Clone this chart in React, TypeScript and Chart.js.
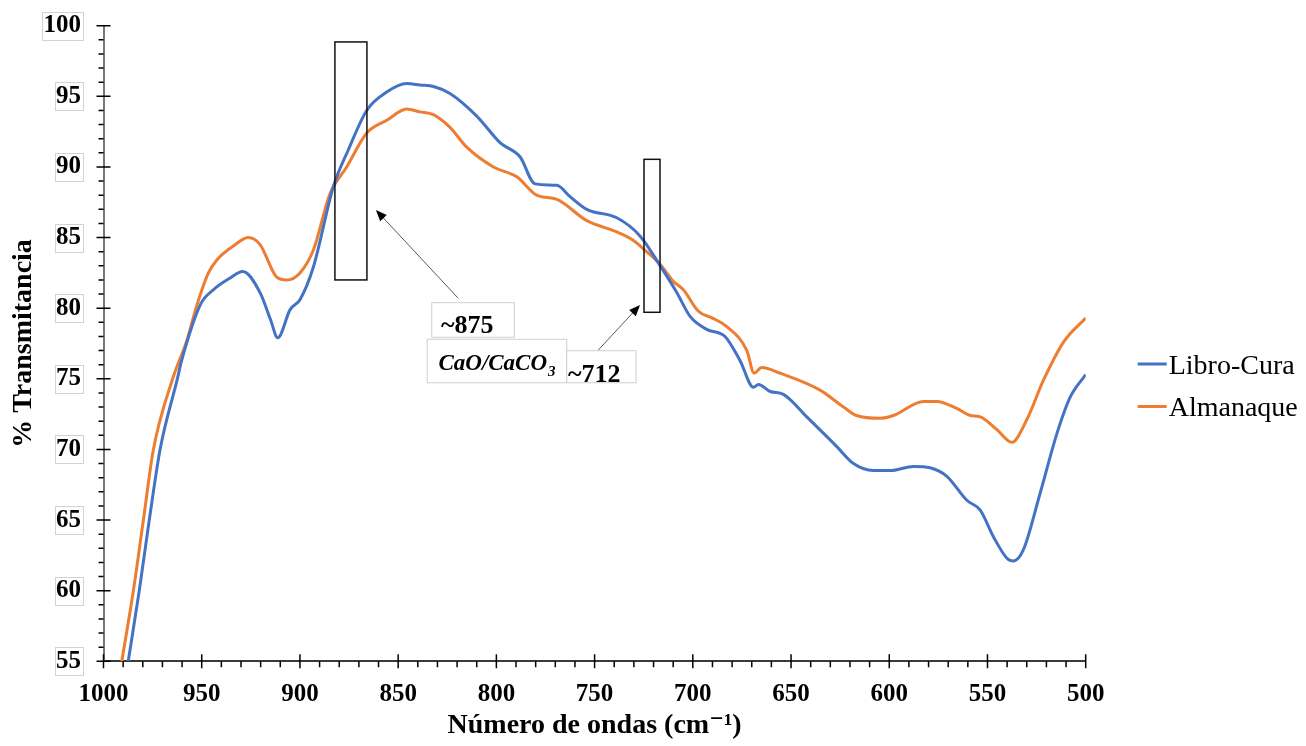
import React, { useEffect, useRef } from 'react';
import { Chart, registerables } from 'chart.js';

Chart.register(...registerables);

// ---------------- data ----------------
const SERIES_LABELS = ['Libro-Cura', 'Almanaque'];
const SERIES_COLORS = ['#4472C4', '#ED7D31'];

const LIBRO_WAVENUMBERS = [
  987.4, 981.8, 976.7, 971.2, 962.4, 960.2, 950.5, 944.1, 936, 929.1, 920.3, 915, 911.3, 905, 900,
  893.2, 883, 875.4, 866, 855.8, 845.6, 838.9, 832, 823.6, 810, 798, 787.9, 780.3, 769.2, 762.5,
  754, 738.7, 726.8, 716.6, 708.1, 701.3, 692.9, 683.6, 676, 669.1, 666.6, 660.6, 653.9, 642,
  626.7, 618.2, 608.1, 599.6, 587.7, 579.2, 570.7, 560.5, 553.7, 546.9, 540.1, 536.8, 531.7,
  523.2, 514.7, 507.9, 500,
];
const LIBRO_VALUES = [
  55, 60, 65, 70, 75, 76.3, 80.3, 81.3, 82.1, 82.6, 81.1, 79.2, 77.9, 79.9, 80.6,
  82.9, 88.6, 91.2, 94.0, 95.3, 95.9, 95.8, 95.7, 95.2, 93.6, 91.7, 90.7, 88.8, 88.7, 87.9,
  87.0, 86.4, 85.1, 83.0, 81.1, 79.4, 78.5, 78.0, 76.3, 74.4, 74.6, 74.1, 73.9, 72.3,
  70.2, 69.0, 68.5, 68.5, 68.8, 68.7, 68.1, 66.4, 65.7, 63.8, 62.3, 62.1, 62.9,
  66.9, 71.1, 73.7, 75.3,
];

const ALMANAQUE_WAVENUMBERS = [
  990.7, 984.8, 979.7, 974.6, 964.8, 957.6, 952.5, 946.6, 942.4, 933.9, 926.3, 920.3, 911.8, 906.7,
  900, 893.2, 884.7, 876.2, 866, 855.8, 845.6, 838.9, 832.1, 823.6, 815.1, 801.5, 789.6, 779.5,
  769.2, 754, 738.7, 730.2, 724.3, 716.6, 709.9, 704.8, 697.3, 690, 682.7, 672.5, 668.8, 664.9,
  655.6, 635.2, 623.3, 616.6, 604.7, 597.9, 582.6, 575.8, 565.6, 558.8, 553.7, 545.2, 537.6,
  530, 521.5, 511.3, 500,
];
const ALMANAQUE_VALUES = [
  55, 60, 65, 70, 75, 77.7, 80.2, 82.5, 83.4, 84.4, 85.0, 84.5, 82.2, 82.0,
  82.5, 84.1, 88.1, 90.0, 92.4, 93.3, 94.1, 93.9, 93.7, 92.8, 91.4, 90.0, 89.3, 88.0,
  87.7, 86.2, 85.4, 84.8, 84.1, 83.1, 81.9, 81.3, 79.8, 79.3, 78.7, 77.0, 75.4, 75.8,
  75.4, 74.2, 73.0, 72.4, 72.2, 72.4, 73.4, 73.4, 72.9, 72.4, 72.3, 71.4, 70.5,
  72.1, 74.9, 77.6, 79.3,
];

const X_MIN = 500;
const X_MAX = 1000;
const X_MAJOR_STEP = 50;
const X_MINOR_STEP = 10;
const Y_MIN = 55;
const Y_MAX = 100;
const Y_MAJOR_STEP = 5;
const Y_MINOR_STEP = 1;

const X_TITLE = 'Número de ondas (cm⁻¹)';
const Y_TITLE = '% Transmitancia';

// highlight rectangles: [xFrom, xTo, yTop, yBottom] in data units
const HIGHLIGHT_RECTS = [
  [882.2, 865.9, 98.85, 82.0],
  [724.85, 716.7, 90.54, 79.71],
];
// arrows: [xFrom, yFrom, xTo, yTo] in data units
const ARROWS = [
  [819.4, 80.7, 861.3, 86.95],
  [748.1, 77.04, 726.9, 80.22],
];
// label boxes: [xLeft, xRight, yTop, yBottom]
const LABEL_BOXES = [
  [832.9, 790.9, 80.39, 77.94],
  [835.2, 764.2, 77.8, 74.72],
  [764.2, 728.9, 76.99, 74.72],
];
// label texts: text, x, y (baseline-left), kind
const LABEL_TEXTS: [string, number, number, string][] = [
  ['~875', 828.2, 78.22, 'bold'],
  ['CaO/CaCO', 829.5, 75.62, 'chem'],
  ['~712', 763.5, 74.8, 'bold'],
];
const CHEM_SUBSCRIPT = '3';

const SERIF = "'Liberation Serif', 'Times New Roman', 'DejaVu Serif', serif";

// ---------------- plugins ----------------
const axisDecorPlugin = {
  id: 'axisDecor',
  afterDraw(chart: any) {
    const { ctx, chartArea, scales } = chart;
    const x = scales.x;
    const y = scales.y;
    ctx.save();
    // tick label boxes on y axis
    ctx.font = `bold 25px ${SERIF}`;
    ctx.strokeStyle = '#d2d2d2';
    ctx.lineWidth = 1;
    for (const t of y.ticks) {
      const yy = y.getPixelForValue(t.value);
      const label = String(t.value);
      const w = ctx.measureText(label).width;
      const right = chartArea.left - 22;
      ctx.strokeRect(Math.round(right - w - 2) + 0.5, Math.round(yy - 14) + 0.5, Math.round(w + 3), 28);
    }
    // ticks
    ctx.strokeStyle = '#000';
    ctx.lineWidth = 1.5;
    ctx.beginPath();
    const ax = chartArea.left;
    for (let v = Y_MIN; v <= Y_MAX; v += Y_MINOR_STEP) {
      const yy = y.getPixelForValue(v);
      const major = (v - Y_MIN) % Y_MAJOR_STEP === 0;
      ctx.moveTo(ax - (major ? 7 : 5), yy);
      ctx.lineTo(ax + (major ? 7 : 0), yy);
    }
    const ay = chartArea.bottom;
    for (let v = X_MIN; v <= X_MAX; v += X_MINOR_STEP) {
      const xx = x.getPixelForValue(v);
      const major = (v - X_MIN) % X_MAJOR_STEP === 0;
      ctx.moveTo(xx, ay - (major ? 7 : 0));
      ctx.lineTo(xx, ay + (major ? 7 : 6));
    }
    ctx.stroke();
    ctx.restore();
  },
};

const annotationPlugin = {
  id: 'ftirAnnotations',
  afterDatasetsDraw(chart: any) {
    const { ctx, scales } = chart;
    const px = (v: number) => scales.x.getPixelForValue(v);
    const py = (v: number) => scales.y.getPixelForValue(v);
    ctx.save();
    // rectangles
    ctx.strokeStyle = '#111';
    ctx.lineWidth = 1.5;
    for (const [a, b, t, bo] of HIGHLIGHT_RECTS) {
      const x1 = px(a), x2 = px(b), y1 = py(t), y2 = py(bo);
      ctx.strokeRect(x1, y1, x2 - x1, y2 - y1);
    }
    // arrows
    for (const [xa, ya, xb, yb] of ARROWS) {
      const x1 = px(xa), y1 = py(ya), x2 = px(xb), y2 = py(yb);
      const ang = Math.atan2(y2 - y1, x2 - x1);
      const hl = 11, hw = 4.5;
      ctx.strokeStyle = '#595959';
      ctx.lineWidth = 1;
      ctx.beginPath();
      ctx.moveTo(x1, y1);
      ctx.lineTo(x2 - Math.cos(ang) * hl * 0.8, y2 - Math.sin(ang) * hl * 0.8);
      ctx.stroke();
      ctx.fillStyle = '#000';
      ctx.beginPath();
      ctx.moveTo(x2, y2);
      ctx.lineTo(x2 - Math.cos(ang) * hl - Math.sin(ang) * hw, y2 - Math.sin(ang) * hl + Math.cos(ang) * hw);
      ctx.lineTo(x2 - Math.cos(ang) * hl + Math.sin(ang) * hw, y2 - Math.sin(ang) * hl - Math.cos(ang) * hw);
      ctx.closePath();
      ctx.fill();
    }
    // label boxes
    ctx.lineWidth = 1;
    ctx.strokeStyle = '#cfcfcf';
    ctx.fillStyle = '#fff';
    for (const [a, b, t, bo] of LABEL_BOXES) {
      const x1 = px(a), x2 = px(b), y1 = py(t), y2 = py(bo);
      ctx.fillRect(x1, y1, x2 - x1, y2 - y1);
      ctx.strokeRect(x1, y1, x2 - x1, y2 - y1);
    }
    // texts
    ctx.fillStyle = '#000';
    ctx.textBaseline = 'alphabetic';
    ctx.textAlign = 'left';
    for (const [text, xv, yv, kind] of LABEL_TEXTS) {
      const x0 = px(xv), y0 = py(yv);
      if (kind === 'chem') {
        ctx.font = `italic bold 23px ${SERIF}`;
        ctx.fillText(text, x0, y0);
        const w = ctx.measureText(text).width;
        ctx.font = `italic bold 15px ${SERIF}`;
        ctx.fillText(CHEM_SUBSCRIPT, x0 + w + 1, y0 + 6);
      } else {
        ctx.font = `bold 26px ${SERIF}`;
        ctx.fillText(text, x0, y0);
      }
    }
    ctx.restore();
  },
};

const legendPlugin = {
  id: 'sideLegend',
  afterDraw(chart: any) {
    const { ctx, chartArea } = chart;
    ctx.save();
    const lineX0 = chartArea.right + 52;
    const lineX1 = chartArea.right + 81;
    const textX = chartArea.right + 83;
    const firstY = 364;
    const gap = 42.5;
    chart.data.datasets.forEach((ds: any, i: number) => {
      const yy = firstY + i * gap;
      ctx.strokeStyle = ds.borderColor;
      ctx.lineWidth = 3;
      ctx.beginPath();
      ctx.moveTo(lineX0, yy);
      ctx.lineTo(lineX1, yy);
      ctx.stroke();
      ctx.fillStyle = '#000';
      ctx.font = `28px ${SERIF}`;
      ctx.textBaseline = 'alphabetic';
      ctx.textAlign = 'left';
      ctx.fillText(ds.label, textX, yy + 9.8);
    });
    ctx.restore();
  },
};

const toPoints = (xs: number[], ys: number[]) => xs.map((x, i) => ({ x, y: ys[i] }));

export default function App() {
  const canvasRef = useRef<HTMLCanvasElement | null>(null);

  useEffect(() => {
    if (!canvasRef.current) return;
    const chart = new Chart(canvasRef.current, {
      type: 'line',
      data: {
        datasets: [
          {
            label: SERIES_LABELS[0],
            data: toPoints(LIBRO_WAVENUMBERS, LIBRO_VALUES),
            borderColor: SERIES_COLORS[0],
            backgroundColor: SERIES_COLORS[0],
            borderWidth: 3,
            pointRadius: 0,
            cubicInterpolationMode: 'monotone',
            fill: false,
          },
          {
            label: SERIES_LABELS[1],
            data: toPoints(ALMANAQUE_WAVENUMBERS, ALMANAQUE_VALUES),
            borderColor: SERIES_COLORS[1],
            backgroundColor: SERIES_COLORS[1],
            borderWidth: 3,
            pointRadius: 0,
            cubicInterpolationMode: 'monotone',
            fill: false,
          },
        ],
      },
      options: {
        responsive: false,
        animation: false,
        layout: { padding: { top: 25.7, right: 220.3, left: 0, bottom: 0 } },
        plugins: {
          legend: { display: false },
          tooltip: { enabled: false },
        },
        scales: {
          x: {
            type: 'linear',
            reverse: true,
            min: X_MIN,
            max: X_MAX,
            afterFit: (s: any) => {
              s.height = 84.7;
              s.paddingLeft = 0;
              s.paddingRight = 0;
            },
            grid: { display: false, drawTicks: false },
            border: { display: true, color: '#3a3a3a', width: 2 },
            ticks: {
              stepSize: X_MAJOR_STEP,
              padding: 18,
              color: '#000',
              maxRotation: 0,
              autoSkip: false,
              callback: (v: any) => String(v),
              font: { family: SERIF, size: 25, weight: 'bold' },
            },
            title: {
              display: true,
              text: X_TITLE,
              color: '#000',
              font: { family: SERIF, size: 28, weight: 'bold' },
              padding: { top: 0, bottom: 3 },
            },
          },
          y: {
            min: Y_MIN,
            max: Y_MAX,
            afterFit: (s: any) => {
              s.width = 103.5;
              s.paddingTop = 0;
              s.paddingBottom = 0;
            },
            grid: { display: false, drawTicks: false },
            border: { display: true, color: '#777', width: 2 },
            ticks: {
              stepSize: Y_MAJOR_STEP,
              padding: 22.5,
              color: '#000',
              callback: (v: any) => String(v),
              font: { family: SERIF, size: 25, weight: 'bold' },
            },
            title: {
              display: true,
              text: Y_TITLE,
              color: '#000',
              font: { family: SERIF, size: 28, weight: 'bold' },
              padding: { top: 7, bottom: 0 },
            },
          },
        },
      } as any,
      plugins: [axisDecorPlugin, annotationPlugin, legendPlugin],
    });
    return () => chart.destroy();
  }, []);

  return (
    <div style={{ position: 'fixed', left: 0, top: 0, width: 1306, height: 746, background: '#fff' }}>
      <canvas ref={canvasRef} width={1306} height={746} style={{ display: 'block' }} />
    </div>
  );
}
